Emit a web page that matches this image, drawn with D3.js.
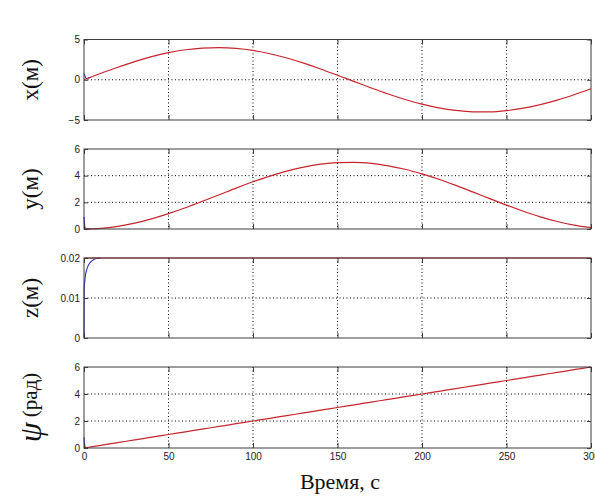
<!DOCTYPE html>
<html>
<head>
<meta charset="utf-8">
<script src="https://cdn.jsdelivr.net/npm/d3@7"></script>
<style>
  body { margin: 0; background: #fff; }
  svg { display: block; }
</style>
</head>
<body>
<div id="chart"></div>
<script>
// time grid of the reference curves, s
var time = [0, 10, 20, 30, 40, 50, 60, 70, 80, 90, 100, 110, 120, 130, 140, 150,
            160, 170, 180, 190, 200, 210, 220, 230, 240, 250, 260, 270, 280, 290, 300];

// reference (red) values
var xRef = [0, 0.80, 1.56, 2.26, 2.87, 3.37, 3.73, 3.94, 4.00, 3.90, 3.64, 3.23, 2.70, 2.06, 1.34, 0.56,
            -0.23, -1.02, -1.77, -2.45, -3.03, -3.49, -3.81, -3.98, -3.99, -3.84, -3.53, -3.09, -2.53, -1.86, -1.12];
var yRef = [0, 0.05, 0.20, 0.44, 0.76, 1.15, 1.59, 2.08, 2.57, 3.07, 3.54, 3.97, 4.34, 4.64, 4.86, 4.98,
            5.00, 4.92, 4.74, 4.48, 4.13, 3.73, 3.27, 2.78, 2.28, 1.79, 1.33, 0.91, 0.56, 0.29, 0.10];
var zRef = [0.02, 0.02, 0.02, 0.02, 0.02, 0.02, 0.02, 0.02, 0.02, 0.02, 0.02, 0.02, 0.02, 0.02, 0.02, 0.02,
            0.02, 0.02, 0.02, 0.02, 0.02, 0.02, 0.02, 0.02, 0.02, 0.02, 0.02, 0.02, 0.02, 0.02, 0.02];
var psiRef = [0, 0.2, 0.4, 0.6, 0.8, 1.0, 1.2, 1.4, 1.6, 1.8, 2.0, 2.2, 2.4, 2.6, 2.8, 3.0,
              3.2, 3.4, 3.6, 3.8, 4.0, 4.2, 4.4, 4.6, 4.8, 5.0, 5.2, 5.4, 5.6, 5.8, 6.0];

// actual (blue) transient at the start
var xActT = [0, 0.5, 1, 1.5, 2.5, 4];
var xAct  = [0.8, 0.5, 0.25, 0.15, 0.2, 0.32];
var yActT = [0, 0.3, 0.6, 1, 2, 4];
var yAct  = [0.9, 0.4, 0.1, 0.0, 0.0, 0.004];
var zActT = [0, 0.1, 0.3, 0.6, 1, 1.5, 2, 3, 4, 5, 6, 8, 10];
var zAct  = [0, 0.012, 0.0135, 0.0148, 0.016, 0.0169, 0.0176, 0.0185, 0.019, 0.0194, 0.0197, 0.0199, 0.02];
var psiActT = [0, 0.3, 0.6, 1, 2];
var psiAct  = [0.8, 0.35, 0.1, 0.02, 0.04];

var xTicks = [0, 50, 100, 150, 200, 250, 300];

var panels = [
  { ref: xRef, actT: xActT, act: xAct, domain: [-5, 5], ticks: [-5, 0, 5], label: "x(м)", top: 39.5, bottom: 120 },
  { ref: yRef, actT: yActT, act: yAct, domain: [0, 6], ticks: [0, 2, 4, 6], label: "y(м)", top: 149, bottom: 229 },
  { ref: zRef, actT: zActT, act: zAct, domain: [0, 0.02], ticks: [0, 0.01, 0.02], label: "z(м)", top: 258, bottom: 338 },
  { ref: psiRef, actT: psiActT, act: psiAct, domain: [0, 6], ticks: [0, 2, 4, 6], label: "psi", top: 367, bottom: 448 }
];

var W = 595, H = 499;
var left = 84, right = 591;
var axisColor = "#3c3c3c";
var redColor = "#c4262e";
var blueColor = "#2a2ad0";
var tickFont = "'Liberation Sans', Arial, sans-serif";
var labelFont = "'Liberation Serif', 'Times New Roman', serif";

var svg = d3.select("#chart").append("svg")
  .attr("width", W)
  .attr("height", H);

var x = d3.scaleLinear().domain([0, 300]).range([left, right]);

panels.forEach(function (p, idx) {
  var y = d3.scaleLinear().domain(p.domain).range([p.bottom, p.top]);
  var g = svg.append("g");

  // dotted grid
  g.selectAll(".vgrid")
    .data(xTicks.slice(1, -1))
    .enter().append("line")
    .attr("x1", d => x(d)).attr("x2", d => x(d))
    .attr("y1", p.top).attr("y2", p.bottom)
    .attr("stroke", "#000").attr("stroke-width", 1)
    .attr("stroke-dasharray", "1,2.5");

  g.selectAll(".hgrid")
    .data(p.ticks.slice(1, -1))
    .enter().append("line")
    .attr("x1", left).attr("x2", right)
    .attr("y1", d => y(d)).attr("y2", d => y(d))
    .attr("stroke", "#000").attr("stroke-width", 1)
    .attr("stroke-dasharray", "1,2.5");

  // curves
  var line = d3.line().x(d => x(d[0])).y(d => y(d[1])).curve(d3.curveMonotoneX);
  g.append("path")
    .datum(p.actT.map((t, i) => [t, p.act[i]]))
    .attr("d", line)
    .attr("fill", "none").attr("stroke", blueColor).attr("stroke-width", 1.1);

  g.append("path")
    .datum(time.map((t, i) => [t, p.ref[i]]))
    .attr("d", line)
    .attr("fill", "none").attr("stroke", redColor).attr("stroke-width", 1.2);

  // box
  g.append("rect")
    .attr("x", left).attr("y", p.top)
    .attr("width", right - left).attr("height", p.bottom - p.top)
    .attr("fill", "none").attr("stroke", axisColor).attr("stroke-width", 1);

  // inner ticks
  g.append("g")
    .attr("transform", "translate(0," + p.bottom + ")")
    .call(d3.axisBottom(x).tickValues(xTicks).tickSize(-5).tickPadding(3)
      .tickFormat(idx === 3 ? d3.format("d") : ""))
    .call(s => s.select(".domain").remove())
    .call(s => s.selectAll("line").attr("stroke", axisColor))
    .call(s => s.selectAll("text")
      .attr("dy", "0.9em")
      .attr("fill", "#222")
      .style("font-family", tickFont)
      .style("font-size", "10px"));

  g.append("g")
    .attr("transform", "translate(0," + p.top + ")")
    .call(d3.axisTop(x).tickValues(xTicks).tickSize(-5).tickFormat(""))
    .call(s => s.select(".domain").remove())
    .call(s => s.selectAll("line").attr("stroke", axisColor));

  g.append("g")
    .attr("transform", "translate(" + left + ",0)")
    .call(d3.axisLeft(y).tickValues(p.ticks).tickSize(-4).tickPadding(4)
      .tickFormat(d => (p.domain[1] < 1 ? (d === 0 ? "0" : d3.format(".2f")(d)) : d3.format("d")(d))))
    .call(s => s.select(".domain").remove())
    .call(s => s.selectAll("line").attr("stroke", axisColor))
    .call(s => s.selectAll("text")
      .attr("fill", "#222")
      .style("font-family", tickFont)
      .style("font-size", "10px"));

  g.append("g")
    .attr("transform", "translate(" + right + ",0)")
    .call(d3.axisRight(y).tickValues(p.ticks).tickSize(-4).tickFormat(""))
    .call(s => s.select(".domain").remove())
    .call(s => s.selectAll("line").attr("stroke", axisColor));

  // y label
  var cy = (p.top + p.bottom) / 2;
  var lab = g.append("text")
    .attr("transform", "translate(30," + cy + ") rotate(-90)")
    .attr("text-anchor", "middle")
    .attr("dominant-baseline", "central")
    .attr("fill", "#111")
    .style("font-family", labelFont)
    .style("font-size", "23px");
  if (p.label === "psi") {
    lab.style("font-size", "21px");
    lab.append("tspan").text("ψ")
      .style("font-style", "italic").style("font-size", "32px");
    lab.append("tspan").text(" (рад)");
  } else {
    lab.text(p.label);
  }
});

svg.append("text")
  .attr("x", 340).attr("y", 489)
  .attr("text-anchor", "middle")
  .attr("fill", "#111")
  .style("font-family", labelFont)
  .style("font-size", "22px")
  .text("Время, с");
</script>
</body>
</html>
